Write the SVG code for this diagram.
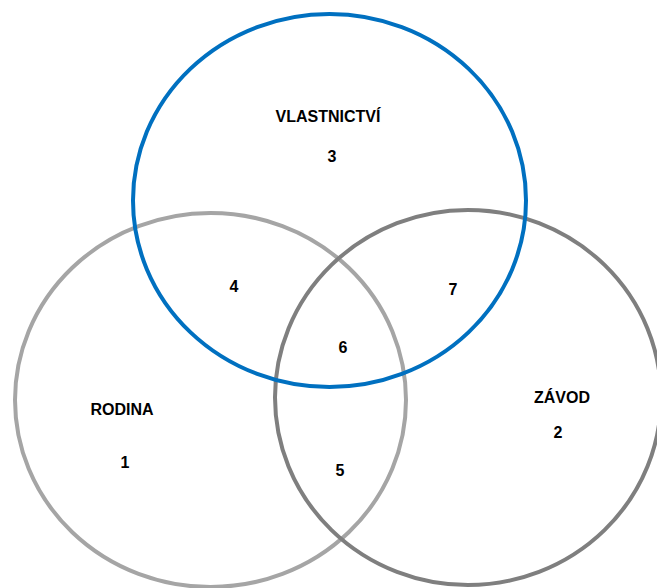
<svg xmlns="http://www.w3.org/2000/svg" width="657" height="588" viewBox="0 0 657 588">
<style>
.c{fill:none;stroke-width:4}
text{font-family:"Liberation Sans",Arial,sans-serif;font-weight:bold;font-size:16px;fill:#000;text-anchor:middle}
</style>
<rect width="657" height="588" fill="#fff"/>
<g id="rodina"><ellipse class="c" cx="210.5" cy="400" rx="195.5" ry="187" stroke="#A5A5A5"/></g>
<g id="zavod"><ellipse class="c" cx="468" cy="397.5" rx="193" ry="187.5" stroke="#7F7F7F"/></g>
<g id="vlastnictvi"><ellipse class="c" cx="329.5" cy="200.5" rx="196.5" ry="186.5" stroke="#0070C0"/></g>
<g id="labels">
<text x="328" y="122">VLASTNICTVÍ</text>
<text x="332" y="162">3</text>
<text x="122" y="415">RODINA</text>
<text x="125" y="468">1</text>
<text x="562" y="403">ZÁVOD</text>
<text x="558" y="438">2</text>
<text x="234" y="292">4</text>
<text x="453" y="295">7</text>
<text x="343" y="353">6</text>
<text x="340" y="476">5</text>
</g>
</svg>
